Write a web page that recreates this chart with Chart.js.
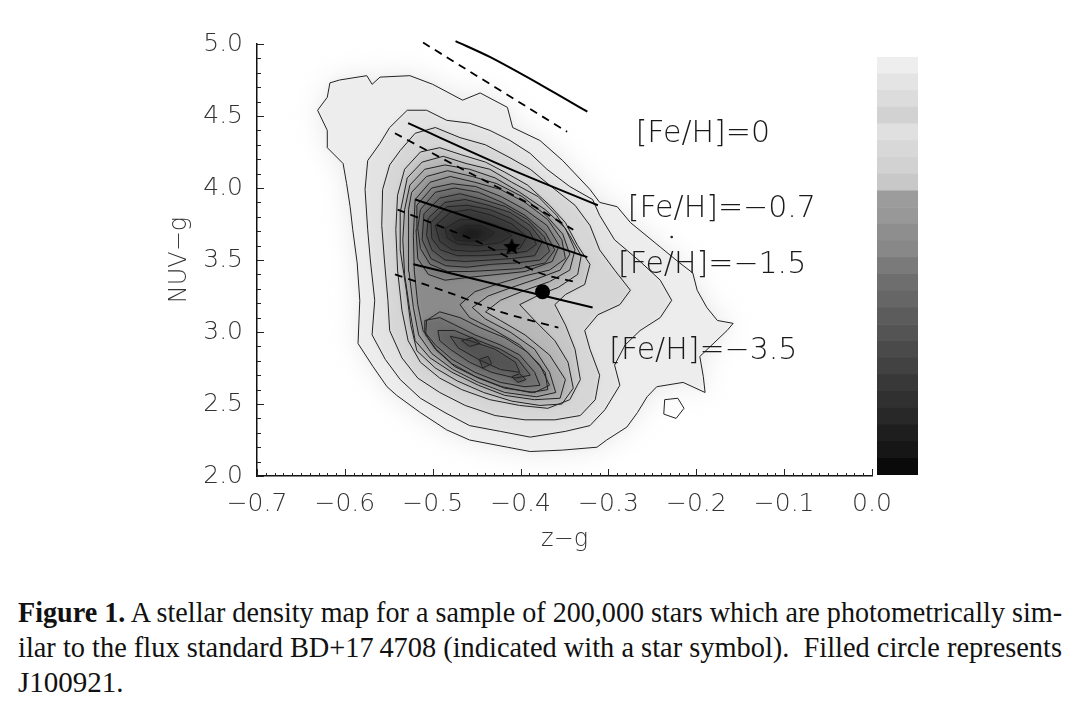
<!DOCTYPE html>
<html><head><meta charset="utf-8">
<script src="https://cdn.jsdelivr.net/npm/chart.js@4.4.1/dist/chart.umd.min.js"></script>
<style>
html,body{margin:0;padding:0;background:#fff;width:1082px;height:704px;overflow:hidden;}
#main{position:absolute;left:0;top:0;}
#cbar{position:absolute;left:877px;top:57px;}
#caption{position:absolute;left:18px;top:595px;width:1044px;font-family:"Liberation Serif","Times New Roman",serif;font-size:29px;line-height:35px;color:#111;}
.ln{white-space:nowrap;display:block;}
.ln span{display:inline-block;transform-origin:0 0;}
</style></head><body>
<canvas id="main" width="1082" height="570"></canvas>
<canvas id="cbar" width="41" height="418"></canvas>
<div id="caption">
<div class="ln"><span id="l1"><b>Figure 1.</b> A stellar density map for a sample of 200,000 stars which are photometrically sim-</span></div>
<div class="ln"><span id="l2">ilar to the flux standard BD+17&#8201;4708 (indicated with a star symbol).&nbsp; Filled circle represents</span></div>
<div class="ln"><span id="l3">J100921.</span></div>
</div>
<script>
// ---------------- data (z-g, NUV-g) ----------------
const xTicks = [-0.7, -0.6, -0.5, -0.4, -0.3, -0.2, -0.1, 0.0];
const yTicks = [2.0, 2.5, 3.0, 3.5, 4.0, 4.5, 5.0];

const contour1 = [[-0.631,4.54],[-0.620,4.63],[-0.617,4.73],[-0.606,4.75],[-0.575,4.78],[-0.569,4.72],[-0.560,4.77],[-0.526,4.78],[-0.500,4.72],[-0.466,4.61],[-0.446,4.66],[-0.415,4.56],[-0.409,4.42],[-0.378,4.33],[-0.352,4.19],[-0.321,3.99],[-0.310,3.90],[-0.290,3.87],[-0.275,3.76],[-0.241,3.59],[-0.219,3.48],[-0.204,3.41],[-0.199,3.29],[-0.188,3.17],[-0.176,3.08],[-0.158,3.06],[-0.165,3.01],[-0.184,2.90],[-0.196,2.83],[-0.192,2.69],[-0.190,2.58],[-0.215,2.65],[-0.245,2.62],[-0.256,2.55],[-0.267,2.44],[-0.279,2.34],[-0.302,2.25],[-0.313,2.20],[-0.352,2.18],[-0.389,2.17],[-0.415,2.20],[-0.458,2.25],[-0.484,2.32],[-0.514,2.44],[-0.541,2.56],[-0.552,2.62],[-0.568,2.76],[-0.585,2.92],[-0.583,3.22],[-0.586,3.48],[-0.591,3.71],[-0.594,3.87],[-0.598,4.03],[-0.602,4.17],[-0.620,4.28],[-0.620,4.40]];
const contour2 = [[-0.549,4.42],[-0.529,4.54],[-0.507,4.54],[-0.484,4.47],[-0.458,4.45],[-0.435,4.40],[-0.412,4.33],[-0.389,4.24],[-0.370,4.13],[-0.344,4.01],[-0.318,3.92],[-0.310,3.81],[-0.293,3.64],[-0.264,3.49],[-0.241,3.36],[-0.228,3.22],[-0.241,3.10],[-0.264,3.01],[-0.281,2.91],[-0.293,2.77],[-0.287,2.63],[-0.304,2.46],[-0.321,2.35],[-0.349,2.31],[-0.389,2.27],[-0.423,2.31],[-0.458,2.35],[-0.486,2.44],[-0.514,2.54],[-0.537,2.67],[-0.554,2.81],[-0.569,2.98],[-0.566,3.22],[-0.571,3.50],[-0.574,3.71],[-0.577,3.99],[-0.574,4.19],[-0.560,4.31]];
const contour3 = [[-0.537,4.26],[-0.520,4.38],[-0.497,4.42],[-0.469,4.35],[-0.440,4.30],[-0.412,4.21],[-0.389,4.13],[-0.361,3.99],[-0.338,3.88],[-0.321,3.74],[-0.310,3.57],[-0.293,3.43],[-0.275,3.29],[-0.287,3.19],[-0.312,3.12],[-0.327,3.01],[-0.321,2.88],[-0.310,2.70],[-0.315,2.53],[-0.332,2.42],[-0.361,2.39],[-0.395,2.39],[-0.429,2.42],[-0.463,2.49],[-0.492,2.58],[-0.517,2.68],[-0.535,2.82],[-0.549,3.01],[-0.551,3.22],[-0.555,3.50],[-0.558,3.74],[-0.557,3.99],[-0.549,4.16]];
const contour4 = [[-0.532,4.13],[-0.514,4.25],[-0.492,4.28],[-0.467,4.23],[-0.440,4.18],[-0.418,4.11],[-0.392,4.02],[-0.367,3.88],[-0.349,3.76],[-0.335,3.60],[-0.321,3.47],[-0.327,3.33],[-0.349,3.26],[-0.361,3.19],[-0.349,3.05],[-0.338,2.88],[-0.332,2.67],[-0.344,2.53],[-0.369,2.47],[-0.401,2.49],[-0.435,2.53],[-0.467,2.60],[-0.492,2.68],[-0.514,2.79],[-0.528,2.94],[-0.535,3.15],[-0.540,3.43],[-0.542,3.71],[-0.540,3.95]];
const contour4b = [[-0.529,4.07],[-0.512,4.18],[-0.488,4.22],[-0.462,4.17],[-0.435,4.13],[-0.410,4.04],[-0.380,3.94],[-0.359,3.81],[-0.344,3.67],[-0.331,3.53],[-0.335,3.40],[-0.357,3.31],[-0.378,3.26],[-0.401,3.19],[-0.384,3.08],[-0.361,2.94],[-0.346,2.79],[-0.340,2.61],[-0.353,2.50],[-0.378,2.49],[-0.410,2.52],[-0.442,2.58],[-0.472,2.66],[-0.497,2.75],[-0.518,2.87],[-0.525,3.05],[-0.530,3.29],[-0.537,3.57],[-0.537,3.83]];
const contour5 = [[-0.526,4.02],[-0.509,4.13],[-0.486,4.16],[-0.458,4.13],[-0.429,4.07],[-0.401,3.97],[-0.372,3.85],[-0.349,3.72],[-0.338,3.57],[-0.344,3.43],[-0.367,3.35],[-0.395,3.29],[-0.423,3.22],[-0.440,3.14],[-0.423,3.08],[-0.395,2.98],[-0.367,2.84],[-0.349,2.67],[-0.355,2.54],[-0.384,2.53],[-0.418,2.56],[-0.448,2.63],[-0.478,2.72],[-0.503,2.82],[-0.520,2.94],[-0.526,3.15],[-0.532,3.40],[-0.534,3.64],[-0.532,3.85]];
const contour5b = [[-0.524,3.97],[-0.507,4.08],[-0.483,4.12],[-0.455,4.08],[-0.427,4.03],[-0.398,3.94],[-0.371,3.81],[-0.352,3.68],[-0.344,3.54],[-0.355,3.43],[-0.381,3.37],[-0.410,3.31],[-0.437,3.25],[-0.455,3.17],[-0.440,3.09],[-0.412,3.00],[-0.384,2.88],[-0.367,2.72],[-0.360,2.58],[-0.382,2.55],[-0.418,2.58],[-0.448,2.65],[-0.477,2.74],[-0.501,2.85],[-0.516,2.98],[-0.522,3.17],[-0.527,3.42],[-0.528,3.66],[-0.527,3.85]];
const contour6 = [[-0.520,3.92],[-0.503,4.04],[-0.480,4.08],[-0.452,4.04],[-0.423,3.99],[-0.395,3.90],[-0.369,3.78],[-0.353,3.64],[-0.349,3.51],[-0.367,3.43],[-0.395,3.39],[-0.423,3.34],[-0.452,3.28],[-0.469,3.19],[-0.458,3.10],[-0.429,3.01],[-0.401,2.91],[-0.378,2.77],[-0.367,2.63],[-0.384,2.58],[-0.418,2.61],[-0.448,2.68],[-0.475,2.76],[-0.497,2.88],[-0.511,3.01],[-0.517,3.19],[-0.521,3.43],[-0.522,3.67]];
const contour6bUpper = [[-0.518,3.88],[-0.501,4.00],[-0.478,4.03],[-0.451,4.01],[-0.422,3.94],[-0.395,3.85],[-0.370,3.74],[-0.356,3.60],[-0.364,3.49],[-0.395,3.42],[-0.426,3.40],[-0.458,3.38],[-0.486,3.36],[-0.505,3.40],[-0.517,3.51],[-0.519,3.71]];
const contour6bLower = [[-0.507,3.08],[-0.492,3.14],[-0.469,3.10],[-0.446,3.03],[-0.418,2.96],[-0.392,2.86],[-0.372,2.72],[-0.369,2.60],[-0.389,2.58],[-0.421,2.62],[-0.451,2.69],[-0.478,2.78],[-0.496,2.88],[-0.508,2.98]];
const contour7Upper = [[-0.514,3.85],[-0.497,3.97],[-0.475,4.00],[-0.448,3.97],[-0.421,3.90],[-0.395,3.81],[-0.372,3.69],[-0.361,3.57],[-0.372,3.48],[-0.401,3.44],[-0.429,3.43],[-0.458,3.42],[-0.483,3.42],[-0.503,3.47],[-0.514,3.58],[-0.517,3.72]];
const contour7Lower = [[-0.509,3.08],[-0.492,3.10],[-0.475,3.05],[-0.452,2.98],[-0.423,2.91],[-0.401,2.84],[-0.384,2.72],[-0.378,2.63],[-0.395,2.62],[-0.423,2.65],[-0.452,2.72],[-0.478,2.81],[-0.497,2.91],[-0.509,3.00]];
const contour7bUpper = [[-0.510,3.82],[-0.492,3.93],[-0.469,3.96],[-0.443,3.92],[-0.417,3.87],[-0.392,3.78],[-0.373,3.66],[-0.367,3.56],[-0.378,3.50],[-0.405,3.48],[-0.433,3.47],[-0.461,3.45],[-0.485,3.46],[-0.502,3.51],[-0.512,3.64]];
const contour8Upper = [[-0.505,3.79],[-0.486,3.90],[-0.463,3.92],[-0.437,3.88],[-0.412,3.83],[-0.389,3.74],[-0.375,3.63],[-0.384,3.53],[-0.410,3.51],[-0.435,3.50],[-0.463,3.49],[-0.486,3.50],[-0.501,3.57],[-0.507,3.67]];
const contour8Lower = [[-0.494,3.01],[-0.475,3.01],[-0.448,2.94],[-0.423,2.88],[-0.403,2.81],[-0.389,2.70],[-0.406,2.68],[-0.433,2.72],[-0.458,2.79],[-0.480,2.88],[-0.492,2.94]];
const contour8bUpper = [[-0.502,3.76],[-0.484,3.87],[-0.461,3.88],[-0.435,3.85],[-0.411,3.79],[-0.390,3.70],[-0.382,3.61],[-0.393,3.56],[-0.418,3.54],[-0.446,3.53],[-0.472,3.53],[-0.491,3.57],[-0.501,3.65]];
const contour9Upper = [[-0.497,3.74],[-0.480,3.83],[-0.458,3.85],[-0.433,3.81],[-0.410,3.75],[-0.393,3.66],[-0.401,3.58],[-0.427,3.57],[-0.455,3.56],[-0.478,3.57],[-0.492,3.63]];
const contour9Lower = [[-0.480,2.97],[-0.458,2.94],[-0.429,2.88],[-0.406,2.79],[-0.401,2.72],[-0.423,2.74],[-0.448,2.81],[-0.471,2.89]];
const contour10Upper = [[-0.486,3.72],[-0.469,3.78],[-0.448,3.78],[-0.427,3.74],[-0.410,3.67],[-0.423,3.62],[-0.448,3.60],[-0.471,3.61],[-0.483,3.65]];
const contour11Upper = [[-0.478,3.69],[-0.463,3.74],[-0.446,3.74],[-0.430,3.69],[-0.440,3.64],[-0.460,3.63],[-0.474,3.64]];
const contour12Upper = [[-0.469,3.69],[-0.458,3.72],[-0.444,3.70],[-0.448,3.65],[-0.463,3.65]];
const peakLoopA = [[-0.467,2.94],[-0.455,2.96],[-0.446,2.92],[-0.458,2.90]];
const peakLoopB = [[-0.447,2.81],[-0.437,2.83],[-0.433,2.78],[-0.443,2.75]];
const peakLoopC = [[-0.410,2.69],[-0.401,2.71],[-0.394,2.67],[-0.403,2.65]];
const islandLoop = [[-0.236,2.53],[-0.221,2.54],[-0.214,2.47],[-0.223,2.40],[-0.237,2.43]];

const feh0Solid   = [[-0.474,5.02],[-0.435,4.91],[-0.378,4.72],[-0.324,4.53]];
const feh0Dashed  = [[-0.511,5.01],[-0.347,4.39]];
const feh07Solid  = [[-0.528,4.45],[-0.415,4.14],[-0.312,3.88]];
const feh07Dashed = [[-0.543,4.38],[-0.466,4.13],[-0.393,3.90],[-0.340,3.71]];
const feh15Solid  = [[-0.520,3.92],[-0.324,3.52]];
const feh15Dashed = [[-0.540,3.85],[-0.450,3.63],[-0.378,3.41],[-0.340,3.35]];
const feh35Solid  = [[-0.522,3.47],[-0.318,3.17]];
const feh35Dashed = [[-0.543,3.40],[-0.480,3.27],[-0.423,3.14],[-0.357,3.03]];

const standardStar = [[-0.410,3.59]];   // BD+17 4708
const j100921 = [[-0.375,3.28]];
const strayDot = [[-0.228,3.66]];

const fehLabels = ['[Fe/H]=0', '[Fe/H]=\u22120.7', '[Fe/H]=\u22121.5', '[Fe/H]=\u22123.5'];
const fehLabelAnchors = [[-0.269,4.32],[-0.278,3.80],[-0.289,3.41],[-0.299,2.81]];

const colorbarLevels = [0,1,2,3,4,5,6,7,8,9,10,11,12,13,14,15,16,17,18,19,20,21,22,23,24];

// ---------------- styles ----------------
const colorbarGrays = [10,22,30,40,48,56,66,74,84,92,102,110,122,136,142,152,156,200,210,216,224,210,220,228,238];
const fillLayers = [
  {d: contour1, c: '#e6e6e6', halo: true},
  {d: contour1, c: '#ededed'},
  {d: contour2, c: '#e3e3e3'},
  {d: contour3, c: '#d6d6d6'},
  {d: contour4, c: '#c7c7c7'},
  {d: contour4b, c: '#b8b8b8'},
  {d: contour5, c: '#a9a9a9'},
  {d: contour5b, c: '#9a9a9a'},
  {d: contour6, c: '#8b8b8b'},
  {d: contour6bUpper, c: '#7c7c7c'},
  {d: contour6bLower, c: '#7e7e7e'},
  {d: contour7Upper, c: '#6c6c6c'},
  {d: contour7Lower, c: '#707070'},
  {d: contour7bUpper, c: '#5c5c5c'},
  {d: contour8Upper, c: '#4e4e4e'},
  {d: contour8Lower, c: '#616161'},
  {d: contour8bUpper, c: '#434343'},
  {d: contour9Upper, c: '#393939'},
  {d: contour9Lower, c: '#545454'},
  {d: contour10Upper, c: '#2f2f2f'},
  {d: contour11Upper, c: '#262626'},
  {d: contour12Upper, c: '#1d1d1d'},
  {d: peakLoopA, c: '#4a4a4a'},
  {d: peakLoopB, c: '#4a4a4a'},
  {d: peakLoopC, c: '#4a4a4a'}
];
const lineLayers = [contour1, contour2, contour3, contour4, contour4b, contour5, contour5b, contour6,
  contour6bUpper, contour6bLower, contour7Upper, contour7Lower, contour7bUpper,
  contour8Upper, contour8Lower, contour8bUpper, contour9Upper, contour9Lower, contour10Upper, contour11Upper, contour12Upper,
  peakLoopA, peakLoopB, peakLoopC, islandLoop];

const closeRing = a => a.concat([a[0]]);
const datasets = [];
fillLayers.forEach((L, i) => datasets.push({
  data: closeRing(L.d), showLine: true, fill: 'shape', backgroundColor: L.c,
  borderColor: 'rgba(0,0,0,0)', borderWidth: 0, pointRadius: 0, tension: 0,
  order: 300 - i, _fillOnly: true, _halo: !!L.halo
}));
lineLayers.forEach((d, i) => datasets.push({
  data: closeRing(d), showLine: true, fill: false, borderColor: '#222222', borderWidth: 1,
  pointRadius: 0, tension: 0, order: 150 - i
}));
const mline = (d, dashed) => ({data: d, showLine: true, fill: false, borderColor: '#000',
  borderWidth: dashed ? 1.8 : 2, borderDash: dashed ? [8, 6] : [], pointRadius: 0, tension: 0.3, order: 20, clip: false});
[[feh0Solid,0],[feh0Dashed,1],[feh07Solid,0],[feh07Dashed,1],[feh15Solid,0],[feh15Dashed,1],[feh35Solid,0],[feh35Dashed,1]]
  .forEach(([d, dash]) => datasets.push(mline(d, dash)));

function makeStar(r) {
  const c = document.createElement('canvas'); c.width = c.height = 2 * r + 2;
  const g = c.getContext('2d'); g.beginPath();
  for (let k = 0; k < 10; k++) {
    const a = -Math.PI / 2 + k * Math.PI / 5, rr = k % 2 ? r * 0.45 : r;
    g.lineTo(r + 1 + rr * Math.cos(a), r + 1 + rr * Math.sin(a));
  }
  g.closePath(); g.fillStyle = '#000'; g.fill(); return c;
}
datasets.push({data: standardStar, showLine: false, pointStyle: makeStar(9), pointRadius: 9, order: 5});
datasets.push({data: j100921, showLine: false, pointStyle: 'circle', pointRadius: 7.5, backgroundColor: '#000', borderColor: '#000', borderWidth: 0, order: 5});
datasets.push({data: strayDot, showLine: false, pointStyle: 'circle', pointRadius: 1.3, backgroundColor: '#222', borderWidth: 0, order: 5});

const softFill = {
  id: 'softFill',
  beforeDatasetsDraw(chart) { chart.ctx.save(); chart.ctx.filter = 'blur(14px)'; },
  beforeDatasetDraw(chart, args) { if (!chart.data.datasets[args.index]._fillOnly) chart.ctx.filter = 'none'; },
  afterDatasetDraw(chart, args) { if (chart.data.datasets[args.index]._halo) chart.ctx.filter = 'blur(2px)'; },
  afterDatasetsDraw(chart) { chart.ctx.filter = 'none'; chart.ctx.restore(); }
};
const labelsPlugin = {
  id: 'fehLabels',
  afterDatasetsDraw(chart) {
    const {ctx, scales: {x, y}} = chart;
    ctx.save(); ctx.font = '300 30px "DejaVu Sans", sans-serif'; ctx.fillStyle = '#1a1a1a';
    ctx.textAlign = 'left'; ctx.textBaseline = 'alphabetic';
    fehLabels.forEach((t, i) => ctx.fillText(t, x.getPixelForValue(fehLabelAnchors[i][0]), y.getPixelForValue(fehLabelAnchors[i][1])));
    ctx.restore();
  }
};
const ticksPlugin = {
  id: 'innerTicks',
  afterDraw(chart) {
    const {ctx, scales: {x, y}, chartArea: a} = chart;
    ctx.save(); ctx.strokeStyle = '#222'; ctx.lineWidth = 1; ctx.beginPath();
    for (let i = 0; i <= 70; i++) {
      const px = Math.round(x.getPixelForValue(-0.7 + i / 100)) + 0.5, len = i % 10 === 0 ? 7 : 3;
      ctx.moveTo(px, a.bottom); ctx.lineTo(px, a.bottom - len);
    }
    for (let j = 0; j <= 30; j++) {
      const py = Math.round(y.getPixelForValue(2 + j / 10)) + 0.5, len = j % 5 === 0 ? 7 : 4;
      ctx.moveTo(a.left, py); ctx.lineTo(a.left + len, py);
    }
    ctx.stroke(); ctx.restore();
  }
};
const fmt = v => (v < -1e-9 ? '\u2212' : '') + Math.abs(v).toFixed(1);
const tickFont = {family: '"DejaVu Sans", sans-serif', size: 25, weight: '300'};

new Chart(document.getElementById('main'), {
  type: 'scatter',
  data: {datasets},
  options: {
    responsive: false, animation: false, events: [],
    layout: {padding: {left: 0, top: 44, right: 210, bottom: 0}},
    plugins: {legend: {display: false}, tooltip: {enabled: false}},
    scales: {
      x: {
        type: 'linear', min: -0.7, max: 0.0,
        afterBuildTicks: s => { s.ticks = xTicks.map(v => ({value: v})); },
        afterFit: s => { s.height = 94; },
        grid: {display: false, drawTicks: false},
        border: {display: true, color: '#111', width: 1.5},
        ticks: {callback: fmt, font: tickFont, color: '#333', padding: 13, autoSkip: false, maxRotation: 0},
        title: {display: true, text: 'z\u2212g', font: {family: '"DejaVu Sans", sans-serif', size: 24, weight: '300'}, color: '#333', padding: {top: 0, bottom: 16}}
      },
      y: {
        type: 'linear', min: 2.0, max: 5.0,
        afterBuildTicks: s => { s.ticks = yTicks.map(v => ({value: v})); },
        afterFit: s => { s.width = 257; },
        grid: {display: false, drawTicks: false},
        border: {display: true, color: '#111', width: 1.5},
        ticks: {callback: fmt, font: tickFont, color: '#333', padding: 14},
        title: {display: true, text: 'NUV\u2212g', font: {family: '"DejaVu Sans", sans-serif', size: 24, weight: '300'}, color: '#333', padding: {top: 165, bottom: 0}}
      }
    }
  },
  plugins: [softFill, labelsPlugin, ticksPlugin]
});

// colour bar
new Chart(document.getElementById('cbar'), {
  type: 'bar',
  data: {labels: [''], datasets: colorbarLevels.map((lvl, i) => ({
    data: [[lvl, lvl + 1]], backgroundColor: `rgb(${colorbarGrays[i]},${colorbarGrays[i]},${colorbarGrays[i]})`,
    borderWidth: 0, grouped: false, barPercentage: 1, categoryPercentage: 1
  }))},
  options: {
    responsive: false, animation: false, events: [],
    layout: {padding: 0},
    plugins: {legend: {display: false}, tooltip: {enabled: false}},
    scales: {x: {display: false}, y: {display: false, min: 0, max: 25}}
  }
});

// caption justification
['l1', 'l2'].forEach(id => {
  const el = document.getElementById(id), W = 1044;
  const w = el.getBoundingClientRect().width;
  if (w > W) { el.style.transform = `scaleX(${W / w})`; }
  else {
    const spaces = (el.textContent.match(/ /g) || []).length;
    el.style.wordSpacing = ((W - w) / spaces) + 'px';
  }
});
</script>
</body></html>
